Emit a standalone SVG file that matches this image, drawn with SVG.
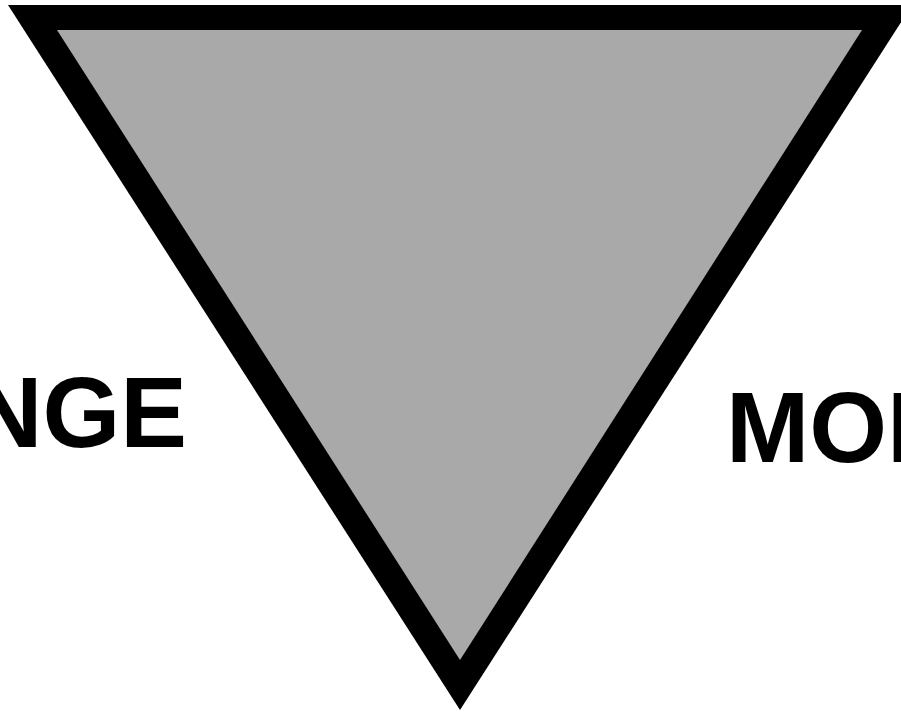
<svg xmlns="http://www.w3.org/2000/svg" width="901" height="712" viewBox="0 0 901 712">
  <style>
    .lbl { font-family: "Liberation Sans", Arial, sans-serif; font-weight: bold; font-size: 100px; fill: #000000; }
  </style>
  <rect x="0" y="0" width="901" height="712" fill="#ffffff"/>
  <g id="triangle">
    <polygon points="8,5 912,5 460,710" fill="#000000"/>
    <polygon points="57,30 862,30 460,660" fill="#a9a9a9"/>
  </g>
  <g id="label-left">
    <text class="lbl" x="187" y="447" text-anchor="end">NGE</text>
  </g>
  <g id="label-right">
    <text class="lbl" x="726" y="462">MOI</text>
  </g>
  <g id="connectors"></g>
</svg>
